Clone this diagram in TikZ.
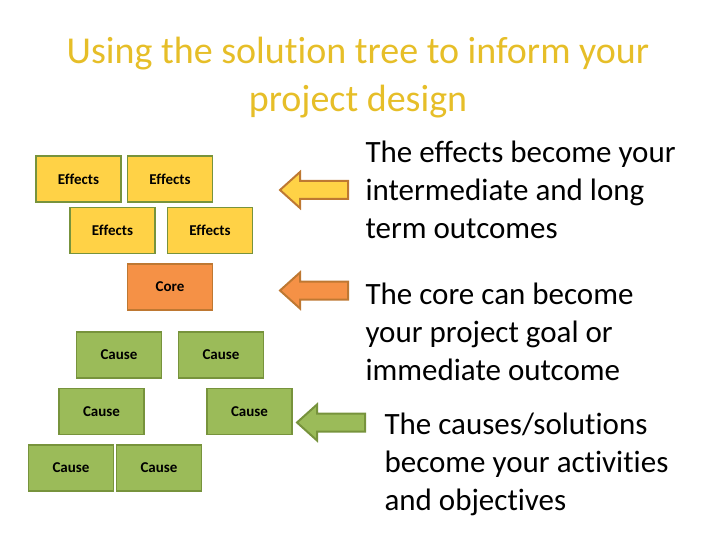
\documentclass[tikz,border=0pt]{standalone}
\usepackage{fontspec}
\setmainfont[Ligatures=NoCommon]{Carlito}
\usetikzlibrary{positioning}
\definecolor{titlegold}{RGB}{230,190,40}
\definecolor{effyellow}{RGB}{255,210,70}
\definecolor{coreorange}{RGB}{245,145,70}
\definecolor{causegreen}{RGB}{155,187,89}
\definecolor{boxedge}{RGB}{119,147,60}
\definecolor{arrowedge}{RGB}{190,120,50}
\newcommand{\leftarrowshape}[3]{% tip x, mid y, style
	\draw[#3] (#1,#2) -- (#1+20,#2-18) -- (#1+20,#2-9) -- (#1+68,#2-9) -- (#1+68,#2+9) -- (#1+20,#2+9) -- (#1+20,#2+18) -- cycle;}
\tikzset{
	% tree boxes
	treebox/.style={draw=boxedge,line width=1.5pt,minimum width=85pt,minimum height=46pt,inner sep=0pt,font=\fontsize{15}{17}\selectfont\bfseries},
	effbox/.style={treebox,fill=effyellow},
	corebox/.style={treebox,fill=coreorange,draw=arrowedge},
	causebox/.style={treebox,fill=causegreen},
	% arrows
	bigarrow/.style={line width=2pt,line join=miter},
	sidetext/.style={anchor=base west,align=left,font=\fontsize{31}{38}\selectfont},
}
\begin{document}
\begin{tikzpicture}[x=1pt,y=-1pt]
	\useasboundingbox (0,0) rectangle (720,540);
	\node[titlegold,align=center,font=\fontsize{38}{48}\selectfont] (title) at (358,78) {Using the solution tree to inform your\\project design};
	
	\node[effbox] (eff1) at (78.5,179) {Effects};
	\node[effbox] (eff2) at (170,179) {Effects};
	\node[effbox] (eff3) at (112.5,230.5) {Effects};
	\node[effbox] (eff4) at (210,230.5) {Effects};
	
	\node[corebox] (core) at (170,287) {Core};
	
	\node[causebox] (cause1) at (119,355) {Cause};
	\node[causebox] (cause2) at (221,355) {Cause};
	\node[causebox] (cause3) at (101.5,411.5) {Cause};
	\node[causebox] (cause4) at (249.5,411.5) {Cause};
	\node[causebox] (cause5) at (71,468) {Cause};
	\node[causebox] (cause6) at (159,468) {Cause};
	
	\leftarrowshape{280}{190}{bigarrow,fill=effyellow,draw=arrowedge}
	\leftarrowshape{280}{290.5}{bigarrow,fill=coreorange,draw=arrowedge}
	\leftarrowshape{297}{422.5}{bigarrow,fill=causegreen,draw=boxedge}
	
	\node[sidetext] (txteff) at (362,238) {The effects become your\\intermediate and long\\term outcomes};
	\node[sidetext] (txtcore) at (362,380) {The core can become\\your project goal or\\immediate outcome};
	\node[sidetext] (txtcause) at (381,510) {The causes/solutions\\become your activities\\and objectives};
\end{tikzpicture}
\end{document}
